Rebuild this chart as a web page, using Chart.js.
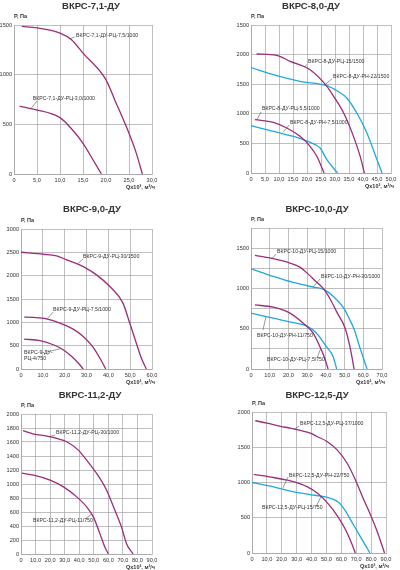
<!DOCTYPE html>
<html>
<head>
<meta charset="utf-8">
<script src="https://cdn.jsdelivr.net/npm/chart.js@4.4.0/dist/chart.umd.min.js"></script>
<style>
    body { margin: 0; background: #fff; width: 400px; height: 570px; position: relative; overflow: hidden; }
    .cell { position: absolute; width: 200px; }
</style>
</head>
<body>
<div class="cell" style="left:0;top:0;height:195px"><canvas id="c71"></canvas></div>
<div class="cell" style="left:200px;top:0;height:195px"><canvas id="c80"></canvas></div>
<div class="cell" style="left:0;top:190px;height:197px"><canvas id="c90"></canvas></div>
<div class="cell" style="left:200px;top:190px;height:197px"><canvas id="c100"></canvas></div>
<div class="cell" style="left:0;top:380px;height:190px"><canvas id="c112"></canvas></div>
<div class="cell" style="left:200px;top:380px;height:190px"><canvas id="c125"></canvas></div>
<script>
// ---- data: Q (x10^3 m3/h) and P (Pa) ----
const q71a = [1.7, 5, 10, 12.5, 15, 20, 21.9, 25, 26.6, 27.9];
const p71a = [1487, 1470, 1419, 1352, 1217, 948, 746, 410, 208, 0];
const q71b = [1.2, 4.2, 10, 12.5, 15, 17.2, 19.0];
const p71b = [683, 652, 568, 455, 309, 141, 0];

const q80a = [2, 9.2, 14, 21.1, 27.1, 29.5, 33.1, 36.6, 39, 40.5];
const p80a = [2010, 1988, 1886, 1745, 1464, 1295, 1013, 619, 282, 0];
const q80b = [0, 9.2, 17.5, 27.1, 31, 34.2, 37.8, 41.4, 45, 46.8];
const p80b = [1779, 1644, 1548, 1475, 1380, 1267, 1013, 676, 225, 0];
const q80c = [1.4, 8, 12.8, 17.5, 21.1, 23.5, 26.1];
const p80c = [901, 856, 760, 619, 450, 282, 0];
const q80d = [0, 8, 14, 18.7, 22.9, 24.7, 27.1, 30.9];
const p80d = [800, 704, 631, 563, 479, 422, 225, 0];

const q90a = [0, 10.2, 16.3, 20.9, 28.5, 34.6, 40.7, 46.7, 49.8, 52.8, 55.1, 57.4];
const p90a = [2502, 2459, 2423, 2338, 2195, 2017, 1768, 1411, 984, 556, 235, 0];
const q90b = [1.5, 5.6, 11.7, 17.8, 23.9, 28.5, 33, 36.1, 38.8];
const p90b = [1112, 1105, 1076, 984, 855, 698, 470, 235, 0];
const q90c = [1.4, 8.7, 14.8, 19.3, 23.1, 26.2, 28.5];
const p90c = [641, 606, 520, 413, 271, 128, 0];

const q100a = [2.1, 11.9, 20.8, 26.1, 30, 34.5, 38.9, 42.5, 46, 50.4, 53.1, 55.1];
const p100a = [1410, 1369, 1315, 1265, 1190, 1090, 991, 860, 700, 500, 250, 0];
const q100b = [0, 11.9, 22.6, 33.2, 38.9, 44, 49.7, 52.8, 55, 58.4, 62];
const p100b = [1244, 1149, 1074, 1016, 988, 900, 750, 610, 500, 250, 0];
const q100c = [2.1, 11.9, 20.8, 27.9, 33.2, 36.8, 39.4, 41.2];
const p100c = [796, 767, 693, 568, 444, 278, 133, 0];
const q100d = [0, 11.9, 22.6, 29.7, 35, 40.3, 43.9, 45.8];
const p100d = [693, 630, 577, 535, 444, 278, 153, 0];

const q112a = [1.4, 8.7, 17.8, 24.6, 31.4, 39.4, 45.1, 52, 58.8, 64.5, 69, 72.5, 77];
const p112a = [1761, 1714, 1685, 1651, 1604, 1484, 1341, 1150, 912, 625, 387, 148, 0];
const q112b = [0.7, 8.7, 20, 29.2, 38.3, 45.1, 49.7, 54.2, 57.6, 60];
const p112b = [1155, 1126, 1055, 959, 816, 673, 530, 291, 100, 0];

const q125a = [2.2, 10.1, 19.1, 25.8, 32.5, 39.1, 43.7, 50.4, 57.2, 63.9, 69.4, 75, 80, 84.5, 89];
const p125a = [1876, 1843, 1796, 1772, 1739, 1701, 1653, 1582, 1463, 1273, 1040, 760, 520, 280, 0];
const q125b = [1.2, 14.4, 23.6, 30.5, 37.3, 44.2, 51.1, 57.9, 62.5, 67.1, 69.4];
const p125b = [1114, 1071, 1033, 995, 938, 843, 700, 510, 343, 129, 0];
const q125c = [0, 14.4, 28.2, 41.9, 51.1, 57.9, 62.5, 67.1, 71.7, 76.3, 79.2];
const p125c = [1000, 938, 867, 819, 786, 724, 605, 438, 271, 105, 0];

// ---- tick labels ----
const x71Ticks = ['0', '5,0', '10,0', '15,0', '20,0', '25,0', '30,0'];
const x80Ticks = ['0', '5,0', '10,0', '15,0', '20,0', '25,0', '30,0', '35,0', '40,0', '45,0', '50,0'];
const x90Ticks = ['0', '10,0', '20,0', '30,0', '40,0', '50,0', '60,0'];
const x100Ticks = ['0', '10,0', '20,0', '30,0', '40,0', '50,0', '60,0', '70,0'];
const x112Ticks = ['0', '10,0', '20,0', '30,0', '40,0', '50,0', '60,0', '70,0', '80,0', '90,0'];
const y71Ticks = ['0', '500', '1000', '1500'];
const y80Ticks = ['0', '500', '1000', '1500', '2000', '1500'];
const y90Ticks = ['0', '500', '1000', '1500', '2000', '2500', '3000'];
const y100Ticks = ['0', '', '500', '', '1000', '', '1500', ''];
const y112Ticks = ['0', '200', '400', '600', '800', '1000', '1200', '1400', '1600', '1800', '2000'];
const y125Ticks = ['0', '500', '1000', '1500', '2000'];

// ---- curve labels (text anchor and leader, in data units) ----
const notes71 = [
    {text: ['ВКРС-7,1-ДУ-РЦ-7,5/1000'], x: 13.5, y: 1395, x1: 13.2, y1: 1380, x2: 12.2, y2: 1360},
    {text: ['ВКРС-7,1-ДУ-РЦ-3,0/1000'], x: 4.1, y: 755, x1: 5.0, y1: 735, x2: 3.7, y2: 660}
];
const notes80 = [
    {text: ['ВКРС-8-ДУ-РЦ-15/1500'], x: 20.4, y: 1875, x1: 20.0, y1: 1830, x2: 19.0, y2: 1790},
    {text: ['ВКРС-8-ДУ-РН-22/1500'], x: 29.3, y: 1621, x1: 28.9, y1: 1590, x2: 26.1, y2: 1478},
    {text: ['ВКРС-8-ДУ-РЦ-5,5/1000'], x: 3.9, y: 1081, x1: 3.6, y1: 1030, x2: 2.1, y2: 900},
    {text: ['ВКРС-8-ДУ-РН-7,5/1000'], x: 13.9, y: 845, x1: 13.6, y1: 811, x2: 11.4, y2: 685}
];
const notes90 = [
    {text: ['ВКРС-9-ДУ-РЦ-30/1500'], x: 28.4, y: 2400, x1: 28.4, y1: 2357, x2: 26.1, y2: 2262},
    {text: ['ВКРС-9-ДУ-РЦ-7,5/1000'], x: 14.7, y: 1264, x1: 14.7, y1: 1221, x2: 12.0, y2: 1075},
    {text: ['ВКРС-9-ДУ-', 'РЦ-4/750'], x: 1.4, y: 343, x1: 11.9, y1: 364, x2: 18.5, y2: 440}
];
const notes100 = [
    {text: ['ВКРС-10-ДУ-РЦ-15/1000'], x: 13.9, y: 1452, x1: 13.4, y1: 1427, x2: 11.2, y2: 1370},
    {text: ['ВКРС-10-ДУ-РН-30/1000'], x: 37.4, y: 1142, x1: 36.9, y1: 1117, x2: 33.1, y2: 1016},
    {text: ['ВКРС-10-ДУ-РН-11/750'], x: 3.2, y: 410, x1: 6.4, y1: 484, x2: 8.0, y2: 650},
    {text: ['ВКРС-10-ДУ-РЦ-7,5/750'], x: 8.6, y: 112, x1: 35.3, y1: 137, x2: 37.2, y2: 250}
];
const notes112 = [
    {text: ['ВКРС-11,2-ДУ-РЦ-30/1000'], x: 24.0, y: 1729, x1: 23.4, y1: 1700, x2: 19.2, y2: 1672},
    {text: ['ВКРС-11,2-ДУ-РЦ-11/750'], x: 8.2, y: 472, x1: 44.0, y1: 500, x2: 48.5, y2: 570}
];
const notes125 = [
    {text: ['ВКРС-12,5-ДУ-РЦ-37/1000'], x: 32.2, y: 1829, x1: 31.6, y1: 1801, x2: 28.2, y2: 1750},
    {text: ['ВКРС-12,5-ДУ-РН-22/750'], x: 24.8, y: 1092, x1: 24.2, y1: 1078, x2: 20.8, y2: 925},
    {text: ['ВКРС-12,5-ДУ-РЦ-15/750'], x: 6.7, y: 638, x1: 43.0, y1: 652, x2: 46.3, y2: 800}
];

const PURPLE = '#9b2d7a';
const CYAN = '#1fa8df';
const GRID = '#a3a3a3';
const INK = '#333333';
const FONT = '"Liberation Sans", Arial, sans-serif';

Chart.defaults.font.family = FONT;
Chart.defaults.color = INK;

// draws the panel title, axis captions and curve labels
function decoPlugin(p) {
    return {
        id: 'deco',
        afterDraw(chart) {
            const ctx = chart.ctx;
            const a = chart.chartArea;
            const sx = chart.scales.x, sy = chart.scales.y;
            ctx.save();
            ctx.fillStyle = INK;
            ctx.textBaseline = 'middle';

            ctx.font = 'bold 9.5px ' + FONT;
            ctx.textAlign = 'center';
            ctx.fillText(p.title, p.titleX, p.titleY);

            ctx.font = 'bold 5.5px ' + FONT;
            ctx.textAlign = 'left';
            ctx.fillText('P, Па', a.left, a.top - 9);
            ctx.textAlign = 'right';
            ctx.fillText('Qx10³, м³/ч', a.right + 3, a.bottom + 13);

            ctx.font = '5.2px ' + FONT;
            ctx.textAlign = 'left';
            ctx.strokeStyle = '#555';
            ctx.lineWidth = 0.6;
            p.notes.forEach(n => {
                n.text.forEach((t, i) => {
                    ctx.fillText(t, sx.getPixelForValue(n.x), sy.getPixelForValue(n.y) + i * 6);
                });
                ctx.beginPath();
                ctx.moveTo(sx.getPixelForValue(n.x1), sy.getPixelForValue(n.y1));
                ctx.lineTo(sx.getPixelForValue(n.x2), sy.getPixelForValue(n.y2));
                ctx.stroke();
            });
            ctx.restore();
        }
    };
}

function makePanel(id, p) {
    const datasets = p.series.map(s => ({
        data: s.q.map((q, i) => ({x: q, y: s.p[i]})),
        borderColor: s.color,
        borderWidth: 1.3,
        pointRadius: 0,
        fill: false,
        cubicInterpolationMode: 'monotone'
    }));

    const config = {
        type: 'line',
        data: {datasets: datasets},
        options: {
            animation: false,
            responsive: true,
            maintainAspectRatio: false,
            layout: {padding: {top: p.box.top, right: p.box.right, left: 0, bottom: 0}},
            plugins: {
                legend: {display: false},
                tooltip: {enabled: false}
            },
            scales: {
                x: {
                    type: 'linear',
                    min: 0,
                    max: p.xMax,
                    grid: {color: GRID, lineWidth: 0.7, drawTicks: false},
                    border: {color: GRID, width: 0.7},
                    ticks: {
                        stepSize: p.xStep,
                        padding: 3,
                        maxRotation: 0,
                        autoSkip: false,
                        font: {size: 5.6},
                        callback: (v, i) => p.xTicks[i]
                    },
                    afterFit: s => { s.height = p.box.bottom; }
                },
                y: {
                    type: 'linear',
                    min: 0,
                    max: p.yMax,
                    grid: {color: GRID, lineWidth: 0.7, drawTicks: false},
                    border: {color: GRID, width: 0.7},
                    ticks: {
                        stepSize: p.yStep,
                        padding: 2,
                        autoSkip: false,
                        font: {size: 5.6},
                        callback: (v, i) => p.yTicks[i]
                    },
                    afterFit: s => { s.width = p.box.left; }
                }
            }
        },
        plugins: [decoPlugin(p)]
    };

    return new Chart(document.getElementById(id), config);
}

function init() {
    makePanel('c71', {
        title: 'ВКРС-7,1-ДУ', titleX: 91, titleY: 6.5,
        box: {top: 25, left: 14, right: 48, bottom: 21},
        xMax: 30, xStep: 5, yMax: 1500, yStep: 500,
        xTicks: x71Ticks, yTicks: y71Ticks, notes: notes71,
        series: [
            {q: q71a, p: p71a, color: PURPLE},
            {q: q71b, p: p71b, color: PURPLE}
        ]
    });
    makePanel('c80', {
        title: 'ВКРС-8,0-ДУ', titleX: 111, titleY: 6.5,
        box: {top: 25, left: 51, right: 9, bottom: 22},
        xMax: 50, xStep: 5, yMax: 2500, yStep: 500,
        xTicks: x80Ticks, yTicks: y80Ticks, notes: notes80,
        series: [
            {q: q80a, p: p80a, color: PURPLE},
            {q: q80b, p: p80b, color: CYAN},
            {q: q80c, p: p80c, color: PURPLE},
            {q: q80d, p: p80d, color: CYAN}
        ]
    });
    makePanel('c90', {
        title: 'ВКРС-9,0-ДУ', titleX: 92, titleY: 19,
        box: {top: 39, left: 21, right: 48, bottom: 18},
        xMax: 60, xStep: 10, yMax: 3000, yStep: 500,
        xTicks: x90Ticks, yTicks: y90Ticks, notes: notes90,
        series: [
            {q: q90a, p: p90a, color: PURPLE},
            {q: q90b, p: p90b, color: PURPLE},
            {q: q90c, p: p90c, color: PURPLE}
        ]
    });
    makePanel('c100', {
        title: 'ВКРС-10,0-ДУ', titleX: 117, titleY: 19,
        box: {top: 38, left: 51, right: 18, bottom: 18},
        xMax: 70, xStep: 10, yMax: 1750, yStep: 250,
        xTicks: x100Ticks, yTicks: y100Ticks, notes: notes100,
        series: [
            {q: q100a, p: p100a, color: PURPLE},
            {q: q100b, p: p100b, color: CYAN},
            {q: q100c, p: p100c, color: PURPLE},
            {q: q100d, p: p100d, color: CYAN}
        ]
    });
    makePanel('c112', {
        title: 'ВКРС-11,2-ДУ', titleX: 90, titleY: 15,
        box: {top: 34, left: 21, right: 48, bottom: 16},
        xMax: 90, xStep: 10, yMax: 2000, yStep: 200,
        xTicks: x112Ticks, yTicks: y112Ticks, notes: notes112,
        series: [
            {q: q112a, p: p112a, color: PURPLE},
            {q: q112b, p: p112b, color: PURPLE}
        ]
    });
    makePanel('c125', {
        title: 'ВКРС-12,5-ДУ', titleX: 117, titleY: 15,
        box: {top: 32, left: 52, right: 14, bottom: 17},
        xMax: 90, xStep: 10, yMax: 2000, yStep: 500,
        xTicks: x112Ticks, yTicks: y125Ticks, notes: notes125,
        series: [
            {q: q125a, p: p125a, color: PURPLE},
            {q: q125b, p: p125b, color: PURPLE},
            {q: q125c, p: p125c, color: CYAN}
        ]
    });
}

init();
</script>
</body>
</html>
